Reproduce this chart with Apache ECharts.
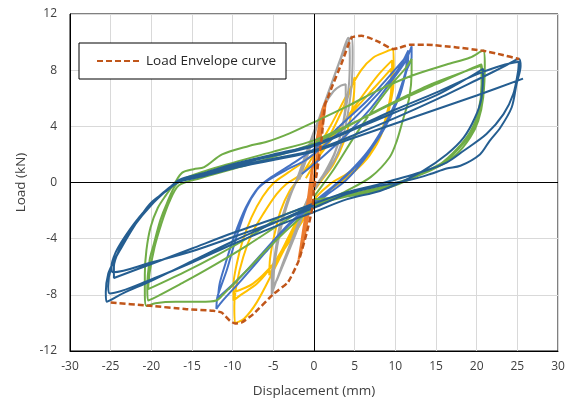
<!DOCTYPE html>
<html>
<head>
<meta charset="utf-8">
<script src="https://cdn.jsdelivr.net/npm/echarts@6/dist/echarts.min.js"></script>
<style>html,body{margin:0;padding:0;background:#fff}#c{width:575px;height:408px}</style>
</head>
<body>
<div id="c"></div>
<script>
// Load (kN) vs Displacement (mm)
const orangeLoops = [
[0,0],[0.3,1.6],[0.8,3.8],[1.2,5.2],[1.5,5.9],[1.2,4.6],[0.6,2.4],[0,0.2],[-0.5,-1.6],[-1.0,-3.4],[-1.6,-5.0],[-1.9,-5.5],
[-1.6,-4.4],[-1.1,-2.6],[-0.5,-0.4],[0,1.6],[0.6,3.8],[1.1,5.3],[1.4,5.7],[1.0,4.0],[0.4,1.8],[-0.2,-0.2],[-0.7,-2.0],[-1.3,-3.8],[-1.8,-5.2],
[-1.4,-3.6],[-0.9,-1.8],[-0.4,0.4],[0.2,2.6],[0.8,4.6],[1.1,5.0]
];
const grayLoops = [
[-1.8,0.2],[-0.8,1.9],[0.5,4.2],[1.9,6.6],[3.3,8.8],[4.6,10.4],
[4.75,9.2],[4.6,6.8],[4.0,4.4],[3.2,2.5],[2.0,1.07],[0.7,0.1],[-0.5,-0.8],[-1.6,-2.4],[-2.8,-4.2],[-4.0,-6.0],[-5.2,-7.95],
[-5.2,-6.8],[-4.8,-5.1],[-4.3,-3.3],[-3.8,-2.25],[-3.1,-1.0],[-2.5,-0.36],[-1.5,1.0],[-0.3,3.0],[1.0,5.2],[2.3,7.3],[3.3,8.9],[4.2,10.3],
[4.4,9.0],[4.3,7.0],[3.8,4.8],[3.0,2.8],[1.9,1.2],[0.6,0],[-0.6,-1.2],[-1.8,-2.9],[-3.2,-5.0],[-5.0,-7.5],
[-4.9,-6.2],[-4.5,-4.5],[-3.8,-2.6],[-3.0,-1.1],[-2.0,0.4],[-0.9,2.2],[0.3,4.1],[1.4,5.6],[2.4,6.5],[3.3,6.9],[3.9,7.0],
[3.9,6.0],[3.5,4.0],[2.6,2.2],[1.4,0.8],[0.2,-0.3],[-1.0,-1.8],[-2.2,-3.6],[-3.6,-5.6],[-4.6,-7.0]
];
const yellowLoops = [
[-1.0,0.3],[0.5,1.8],[2.0,3.4],[3.5,5.2],[4.5,6.6],[5.0,7.5],
[4.9,6.2],[4.5,4.6],[3.6,2.8],[2.4,1.3],[1.0,0.2],[-0.5,-1.0],[-2.0,-2.6],[-3.5,-4.3],[-5.5,-6.6],
[-5.4,-5.4],[-4.9,-3.8],[-4.1,-2.0],[-3.0,-0.6],[-1.8,0.3],
[-0.2,1.8],[2.0,4.0],[4.0,6.2],[5.8,8.0],[7.3,8.9],[8.8,9.3],[9.75,9.5],
[9.8,8.0],[9.75,6.8],[9.3,5.4],[8.9,4.4],[7.7,2.7],[6.1,1.5],[4.0,0.6],[2.0,-0.1],[0,-1.2],[-1.5,-2.4],[-3.0,-4.0],[-5.0,-6.3],[-7.0,-8.5],[-8.6,-9.7],[-9.7,-10.0],
[-9.8,-8.8],[-9.5,-7.2],[-8.7,-5.3],[-7.6,-3.6],[-6.2,-2.2],[-4.6,-0.83],[-3.4,-0.1],[-1.8,0.5],[0.5,1.8],[3.0,3.8],[5.5,5.8],[7.8,7.6],[9.6,8.7],
[9.6,7.4],[9.3,5.8],[8.5,4.0],[7.2,2.4],[5.5,1.1],[3.4,0.1],[1.2,-0.9],[-1.0,-2.2],[-3.0,-3.9],[-5.0,-5.8],[-7.0,-7.2],[-9.0,-8.0],[-9.9,-8.4],
[-9.9,-7.3],[-9.5,-5.8],[-8.8,-4.2],[-7.7,-2.5],[-6.3,-1.0],[-4.9,0],[-3.2,0.7],[-0.5,1.8],[2.0,3.2],[5.0,5.2],[7.5,6.8],[9.5,8.1],
[9.5,6.8],[9.1,5.0],[8.2,3.3],[6.8,1.9],[5.0,0.8],[3.0,-0.1],[1.0,-1.0],[-1.0,-2.4],[-3.0,-4.2],[-5.0,-5.8],[-7.5,-7.2],[-9.8,-7.8]
];
const blueLoops = [
[-1.5,0.6],[1.0,1.8],[4.0,3.4],[7.0,5.3],[9.5,7.2],[11.2,8.6],[12.0,9.7],
[12.0,8.9],[11.4,8.0],[10.6,6.3],[9.3,4.6],[7.7,3.0],[6.1,1.6],[4.0,0.2],[2.0,-0.7],[0,-1.6],[-3.0,-3.0],[-6.0,-5.0],[-9.0,-7.0],[-11.2,-8.4],[-12.0,-9.0],
[-11.9,-8.2],[-11.5,-7.5],[-10.7,-6.2],[-9.6,-4.0],[-8.3,-1.8],[-7.0,-0.5],[-5.8,0.1],[-3.4,0.9],[-1.0,1.6],[2.0,3.0],[5.0,4.6],[8.0,6.4],[10.3,8.0],[11.6,9.4],
[11.5,8.4],[10.8,7.0],[9.8,5.4],[8.4,3.8],[6.6,2.2],[4.6,0.9],[2.5,-0.2],[0,-1.4],[-3.0,-2.9],[-6.0,-4.8],[-9.0,-6.7],[-11.8,-8.2],
[-11.6,-7.2],[-10.9,-5.8],[-9.8,-3.8],[-8.4,-1.8],[-6.9,-0.4],[-5.2,0.4],[-2.5,1.4],[0.5,2.6],[3.5,4.2],[6.5,5.8],[9.0,7.4],[11.4,9.0],
[11.3,8.0],[10.6,6.4],[9.5,4.8],[8.0,3.2],[6.2,1.8],[4.2,0.6],[2.0,-0.5],[0,-1.5],[-2.5,-2.7],[-5.0,-4.2],[-7.5,-5.8],[-9.5,-7.0],[-10.5,-7.6]
];
const greenLoops = [
[0,-1.0],[2.5,1.0],[5.0,3.3],[7.5,5.4],[10.0,7.3],[11.2,8.1],[12.0,8.8],
[12.0,7.8],[11.7,6.0],[11.0,4.6],[10.2,3.0],[9.3,1.8],[7.0,0.4],[4.0,-0.6],[0,-1.8],[-3.0,-3.2],[-6.0,-4.9],[-9.0,-6.7],[-11.2,-8.0],[-12.0,-8.4],
[-14.0,-8.5],[-17.0,-8.5],[-19.5,-8.6],[-20.6,-8.8],
[-20.8,-8.0],[-20.8,-6.5],[-20.6,-4.8],[-20.1,-3.2],[-19.2,-1.8],[-18.2,-0.9],[-17.2,-0.1],[-16.2,0.7],[-14.8,0.95],[-13.5,1.1],[-11.3,2.0],[-8.0,2.6],[-5.8,2.9],[-3.0,3.5],[0,4.3],[4.0,5.4],[8.0,6.6],[12.0,7.6],[16.3,8.4],[19.2,8.9],[20.8,9.4],
[21.0,8.4],[20.8,6.05],[20.2,4.4],[19.2,3.2],[17.5,2.0],[15.1,1.07],[12.2,0.36],[8.1,-0.36],[4.0,-0.9],[0,-1.5],[-4.0,-2.9],[-8.0,-4.4],[-12.0,-5.8],[-16.0,-7.1],[-20.4,-8.4],
[-20.5,-7.5],[-20.2,-5.5],[-19.7,-4.4],[-18.9,-2.7],[-18.1,-1.5],[-16.9,-0.1],[-15.0,0.5],[-10.0,1.4],[-5.0,2.2],[0,3.0],[5.0,4.3],[10.0,5.7],[15.0,7.0],[18.5,7.9],[20.6,8.4],
[20.7,7.4],[20.5,5.5],[19.8,4.0],[18.4,2.8],[16.3,1.6],[13.4,0.7],[10.6,0],[8.0,-0.5],[4.0,-1.0],[0,-1.6],[-4.0,-2.4],[-8.0,-3.9],[-12.0,-5.2],[-16.0,-6.4],[-20.4,-7.6],
[-20.2,-6.4],[-19.6,-4.6],[-18.8,-3.0],[-17.8,-1.4],[-16.6,-0.2],[-14.0,0.3],[-8.0,1.3],[0,2.8],[8.0,5.2],[14.0,6.9],[19.0,8.0],[20.5,8.3],
[20.6,7.0],[20.2,5.0],[19.2,3.6],[17.6,2.4],[15.5,1.3],[12.5,0.4],[9.0,-0.4],[5.0,-0.9],[0,-1.2]
];
const darkBlueLoops = [
[0,-1.6],[-5.0,-2.9],[-10.0,-4.2],[-15.0,-5.6],[-20.0,-7.0],[-23.5,-7.9],[-25.5,-8.5],
[-25.6,-7.8],[-25.3,-6.5],[-24.6,-5.6],[-23.9,-4.86],[-22.2,-3.2],[-20.2,-1.54],[-18.1,-0.59],[-16.5,0.12],[-14.0,0.48],[-10.0,1.1],[-5.0,1.7],[0,2.3],[5.0,3.4],[10.0,4.6],[15.0,5.9],[20.0,7.3],[23.5,8.3],[25.2,8.8],
[25.4,8.3],[24.9,7.0],[24.3,5.34],[22.9,3.9],[21.6,2.97],[20.4,2.0],[18.0,1.19],[16.3,1.0],[14.3,0.6],[12.2,0.24],[8.1,-0.24],[4.0,-0.83],[0,-1.8],[-4.2,-2.7],[-10.0,-3.9],[-15.0,-4.9],[-20.0,-5.7],[-24.7,-6.4],
[-24.9,-6.0],[-24.4,-5.0],[-23.4,-4.0],[-21.8,-2.7],[-19.8,-1.4],[-17.6,-0.3],[-15.5,0.3],[-10.0,1.2],[-5.0,1.9],[0,2.6],[5.0,3.8],[10.0,5.0],[15.0,6.2],[18.5,7.3],[20.8,8.1],
[20.6,6.05],[19.8,4.63],[18.4,3.2],[16.3,2.0],[13.4,0.83],[10.6,0],[8.1,-0.6],[4.0,-1.2],[0,-2.1],[-4.2,-3.0],[-10.0,-4.4],[-15.0,-5.7],[-20.0,-6.9],[-25.1,-7.9],
[-25.3,-7.4],[-24.9,-6.0],[-23.6,-4.5],[-22.0,-3.0],[-20.0,-1.6],[-18.0,-0.5],[-16.5,0.2],[-14.0,0.6],[-10.0,1.3],[-5.0,2.0],[0,2.7],[5.0,3.9],[10.0,5.2],[15.0,6.4],[20.0,7.7],[23.5,8.4],[25.2,8.6],
[25.1,7.95],[24.5,6.3],[23.3,4.87],[21.2,3.45],[18.4,2.26],[16.3,1.42],[13.0,0.71],[8.1,-0.1],[4.0,-0.7],[0,-1.5],[-5.0,-2.6],[-10.0,-3.6],[-15.0,-4.7],[-20.0,-5.8],[-24.6,-6.8],
[-24.6,-6.0],[-23.8,-4.6],[-22.4,-3.2],[-20.5,-1.8],[-18.5,-0.7],[-16.8,0.0],[-14.0,0.4],[-10.0,1.0],[-5.0,1.6],[0,2.2],[5.0,3.2],[10.0,4.2],[15.0,5.2],[20.0,6.2],[25.7,7.4]
];
const envelope = [
[-25.0,-8.55],[-20.2,-8.78],[-15.65,-9.02],[-12.4,-9.14],[-11.35,-9.26],[-10.33,-9.85],[-9.71,-10.04],[-8.89,-9.97],[-7.46,-9.37],[-5.0,-7.95],[-3.2,-7.1],[-1.9,-5.6],[-0.9,-3.6],[-0.2,-1.8],[0.0,-0.4],[0.33,0.6],[0.95,3.2],[1.35,5.6],[1.56,5.82],[2.2,6.8],[3.4,8.5],[4.64,10.33],[5.87,10.45],[6.89,10.28],[8.12,9.97],[9.75,9.5],[10.33,9.57],[11.8,9.81],[13.86,9.81],[17.55,9.62],[20.82,9.38],[23.08,9.10],[25.24,8.79]
];
const envelopeName = 'Load Envelope curve';
const xAxisTitle = 'Displacement (mm)';
const yAxisTitle = 'Load (kN)';

const FONT = '"Open Sans", "Noto Sans", sans-serif';
function loop(name, data, color) {
  return {
    name: name, type: 'line', data: data, symbol: 'none', showSymbol: false,
    smooth: 0.3, silent: true, z: 2,
    lineStyle: { width: 2, color: color }, itemStyle: { color: color }
  };
}
const chart = echarts.init(document.getElementById('c'), null, { renderer: 'canvas' });
chart.setOption({
  animation: false,
  backgroundColor: '#fff',
  grid: { left: 70, right: 17, top: 14, bottom: 57, show: true, borderColor: '#000', borderWidth: 1, containLabel: false },
  legend: {
    data: [envelopeName], left: 79, top: 43, itemWidth: 44, itemHeight: 14,
    padding: [11, 10, 11, 17], borderColor: '#000', borderWidth: 1, backgroundColor: '#fff',
    itemStyle: { opacity: 0 },
    textStyle: { fontFamily: FONT, fontSize: 13.5, color: '#262626' }
  },
  xAxis: {
    type: 'value', min: -30, max: 30, interval: 5,
    axisLine: { show: true, onZero: false, lineStyle: { color: '#000', width: 1 } },
    axisTick: { show: false },
    axisLabel: { color: '#404040', fontFamily: FONT, fontSize: 12, margin: 10 },
    splitLine: { show: true, lineStyle: { color: '#d9d9d9', width: 1 } },
    name: xAxisTitle, nameLocation: 'middle', nameGap: 33,
    nameTextStyle: { color: '#404040', fontFamily: FONT, fontSize: 13.5 }
  },
  yAxis: {
    type: 'value', min: -12, max: 12, interval: 4,
    axisLine: { show: true, onZero: false, lineStyle: { color: '#000', width: 1 } },
    axisTick: { show: false },
    axisLabel: { color: '#404040', fontFamily: FONT, fontSize: 12, margin: 13 },
    splitLine: { show: true, lineStyle: { color: '#d9d9d9', width: 1 } },
    name: yAxisTitle, nameLocation: 'middle', nameGap: 41,
    nameTextStyle: { color: '#404040', fontFamily: FONT, fontSize: 13.5 }
  },
  series: [
    { name: 'zero', type: 'line', data: [], z: 1, silent: true,
      markLine: { silent: true, symbol: 'none', label: { show: false },
        lineStyle: { color: '#000', width: 1, type: 'solid' },
        data: [{ xAxis: 0 }, { yAxis: 0 }] } },
    loop('yellow', yellowLoops, '#FFC000'),
    loop('gray', grayLoops, '#A5A5A5'),
    loop('orange', orangeLoops, '#ED7D31'),
    loop('blue', blueLoops, '#4472C4'),
    loop('green', greenLoops, '#70AD47'),
    loop('darkblue', darkBlueLoops, '#255E91'),
    { name: envelopeName, type: 'line', data: envelope, symbol: 'none', showSymbol: false,
      smooth: 0.15, z: 5, silent: true,
      lineStyle: { width: 2.5, color: '#C0561A', type: [6, 3] }, itemStyle: { color: '#C0561A' } }
  ]
});
</script>
</body>
</html>
